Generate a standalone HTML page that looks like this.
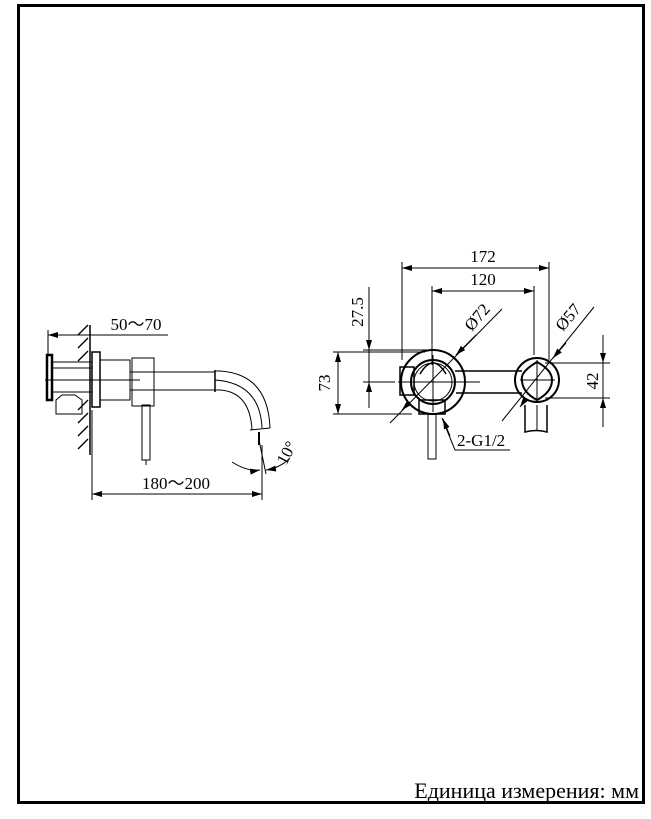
<!DOCTYPE html>
<html><head><style>
html,body{margin:0;padding:0;background:#fff;width:651px;height:819px;overflow:hidden}
svg text{font-family:"Liberation Serif",serif}
</style></head><body>
<svg width="651" height="819" viewBox="0 0 651 819" xmlns="http://www.w3.org/2000/svg">
<defs>
<marker id="a" viewBox="0 0 10 6" refX="10" refY="3" markerWidth="10" markerHeight="6" orient="auto-start-reverse" markerUnits="userSpaceOnUse"><path d="M0,0 L10,3 L0,6z" fill="#000"/></marker>
</defs>
<rect x="18.5" y="5.5" width="625" height="797" fill="none" stroke="#000" stroke-width="3"/>
<text x="639" y="798" font-size="22" text-anchor="end" font-family="Liberation Serif, serif">Единица измерения: мм</text>

<g stroke="#000" fill="none" stroke-width="1">
<line x1="90" y1="325" x2="90" y2="455" stroke-width="1.5"/>
<g stroke-width="1.3">
<line x1="78" y1="335" x2="88" y2="325"/><line x1="78" y1="348" x2="88" y2="338"/><line x1="78" y1="361" x2="88" y2="351"/>
<line x1="78" y1="410" x2="88" y2="400"/><line x1="78" y1="423" x2="88" y2="413"/><line x1="78" y1="436" x2="88" y2="426"/><line x1="78" y1="449" x2="88" y2="439"/>
</g>
<line x1="48" y1="335" x2="168" y2="335"/>
<line x1="48" y1="335" x2="90" y2="335" marker-start="url(#a)"/>
<line x1="48" y1="330" x2="48" y2="355"/>
<rect x="47" y="355" width="5" height="45" stroke-width="2.5"/>
<line x1="52" y1="362" x2="92" y2="362"/><line x1="52" y1="368" x2="92" y2="368"/>
<line x1="45" y1="380" x2="140" y2="380"/>
<line x1="52" y1="392" x2="92" y2="392"/>
<path d="M56,400 L56,414 L82,414 L82,400 L75,395 L62,395 Z"/>
<rect x="92" y="352" width="8" height="55" stroke-width="1.5"/>
<rect x="100" y="360" width="30" height="40"/>
<rect x="132" y="358" width="22" height="48"/>
<line x1="130" y1="372" x2="215" y2="372"/><line x1="130" y1="390" x2="215" y2="390"/>
<line x1="215" y1="370" x2="215" y2="392" stroke-width="1.5"/>
<path d="M215,371 L220,371 Q268,374 270,428"/>
<path d="M215,390 L220,390 Q250,392 252,430"/>
<path d="M215,380 Q260,383 262,428"/>
<line x1="250" y1="430" x2="270" y2="428"/>
<line x1="259" y1="432" x2="259" y2="445" stroke-width="2"/>
<rect x="142" y="405" width="8" height="55"/>
<line x1="146" y1="460" x2="146" y2="465"/>
<line x1="92" y1="410" x2="92" y2="500"/>
<line x1="262" y1="445" x2="262" y2="500"/>
<line x1="92" y1="494" x2="262" y2="494" marker-start="url(#a)" marker-end="url(#a)"/>
<line x1="259" y1="440" x2="266" y2="474"/>
<path d="M232,462 Q248,472 260,470" marker-end="url(#a)"/>
<path d="M290,458 Q280,468 266,470" marker-end="url(#a)"/>

<line x1="402" y1="262" x2="402" y2="360"/>
<line x1="549" y1="262" x2="549" y2="360"/>
<line x1="402" y1="268" x2="549" y2="268" marker-start="url(#a)" marker-end="url(#a)"/>
<line x1="432" y1="286" x2="432" y2="365"/>
<line x1="534" y1="286" x2="534" y2="355"/>
<line x1="432" y1="291" x2="534" y2="291" marker-start="url(#a)" marker-end="url(#a)"/>
<circle cx="433" cy="382" r="32" stroke-width="2"/>
<circle cx="433" cy="382" r="22" stroke-width="2"/>
<circle cx="433" cy="382" r="19"/>
<path d="M420,374 Q433,352 446,374" stroke-width="1.5"/>
<rect x="400" y="367" width="14" height="28" stroke-width="1.5"/>
<rect x="419" y="400" width="26" height="14" stroke-width="1.5"/>
<line x1="398" y1="382" x2="480" y2="382"/>
<line x1="433" y1="355" x2="433" y2="412"/>
<line x1="455" y1="371" x2="522" y2="371" stroke-width="1.5"/>
<line x1="456" y1="393" x2="522" y2="393" stroke-width="1.5"/>
<rect x="428" y="414" width="8" height="45"/>
<circle cx="537" cy="380" r="22" stroke-width="2"/>
<path d="M537,362 Q520,372 522,380 Q522,392 537,400 Q552,392 552,380 Q552,370 537,362Z" stroke-width="2"/>
<line x1="520" y1="380" x2="555" y2="380"/><line x1="537" y1="360" x2="537" y2="400"/>
<path d="M525,405 L525,432 Q536,429 547,432 L547,405" stroke-width="1.5"/>
<line x1="537" y1="405" x2="537" y2="430"/>
<line x1="390" y1="423" x2="502" y2="309"/>
<line x1="410" y1="402" x2="402" y2="410" marker-end="url(#a)"/>
<line x1="476" y1="335" x2="456" y2="355" marker-end="url(#a)"/>
<line x1="502" y1="421" x2="594" y2="307"/>
<line x1="525" y1="400" x2="520" y2="407" marker-end="url(#a)"/>
<line x1="566" y1="343" x2="553" y2="358" marker-end="url(#a)"/>
<line x1="369" y1="287" x2="369" y2="408"/>
<line x1="369" y1="330" x2="369" y2="350" marker-end="url(#a)"/>
<line x1="369" y1="395" x2="369" y2="382" marker-end="url(#a)"/>
<line x1="363" y1="350" x2="430" y2="350"/>
<line x1="363" y1="382" x2="395" y2="382"/>
<line x1="333" y1="352" x2="425" y2="352"/>
<line x1="333" y1="414" x2="412" y2="414"/>
<line x1="338" y1="352" x2="338" y2="414" marker-start="url(#a)" marker-end="url(#a)"/>
<line x1="545" y1="363" x2="610" y2="363"/>
<line x1="545" y1="398" x2="610" y2="398"/>
<line x1="603" y1="335" x2="603" y2="427"/>
<line x1="603" y1="342" x2="603" y2="363" marker-end="url(#a)"/>
<line x1="603" y1="420" x2="603" y2="398" marker-end="url(#a)"/>
<polyline points="442,418 455,450 510,450"/>
<line x1="450" y1="436" x2="443" y2="419" marker-end="url(#a)"/>
</g>

<g font-size="17" fill="#000">
<text x="136" y="330" text-anchor="middle">50～70</text>
<text x="176" y="489" text-anchor="middle">180～200</text>
<text x="0" y="0" transform="translate(286,466) rotate(-62)">10°</text>
<text x="483" y="262" text-anchor="middle">172</text>
<text x="483" y="285" text-anchor="middle">120</text>
<text x="0" y="0" transform="translate(363,312) rotate(-90)" text-anchor="middle">27.5</text>
<text x="0" y="0" transform="translate(330,383) rotate(-90)" text-anchor="middle">73</text>
<text x="0" y="0" transform="translate(598,381) rotate(-90)" text-anchor="middle">42</text>
<text x="0" y="0" transform="translate(472,332) rotate(-50)">Ø72</text>
<text x="0" y="0" transform="translate(563,332) rotate(-50)">Ø57</text>
<text x="457" y="446">2-G1/2</text>
</g>
</svg>
</body></html>
